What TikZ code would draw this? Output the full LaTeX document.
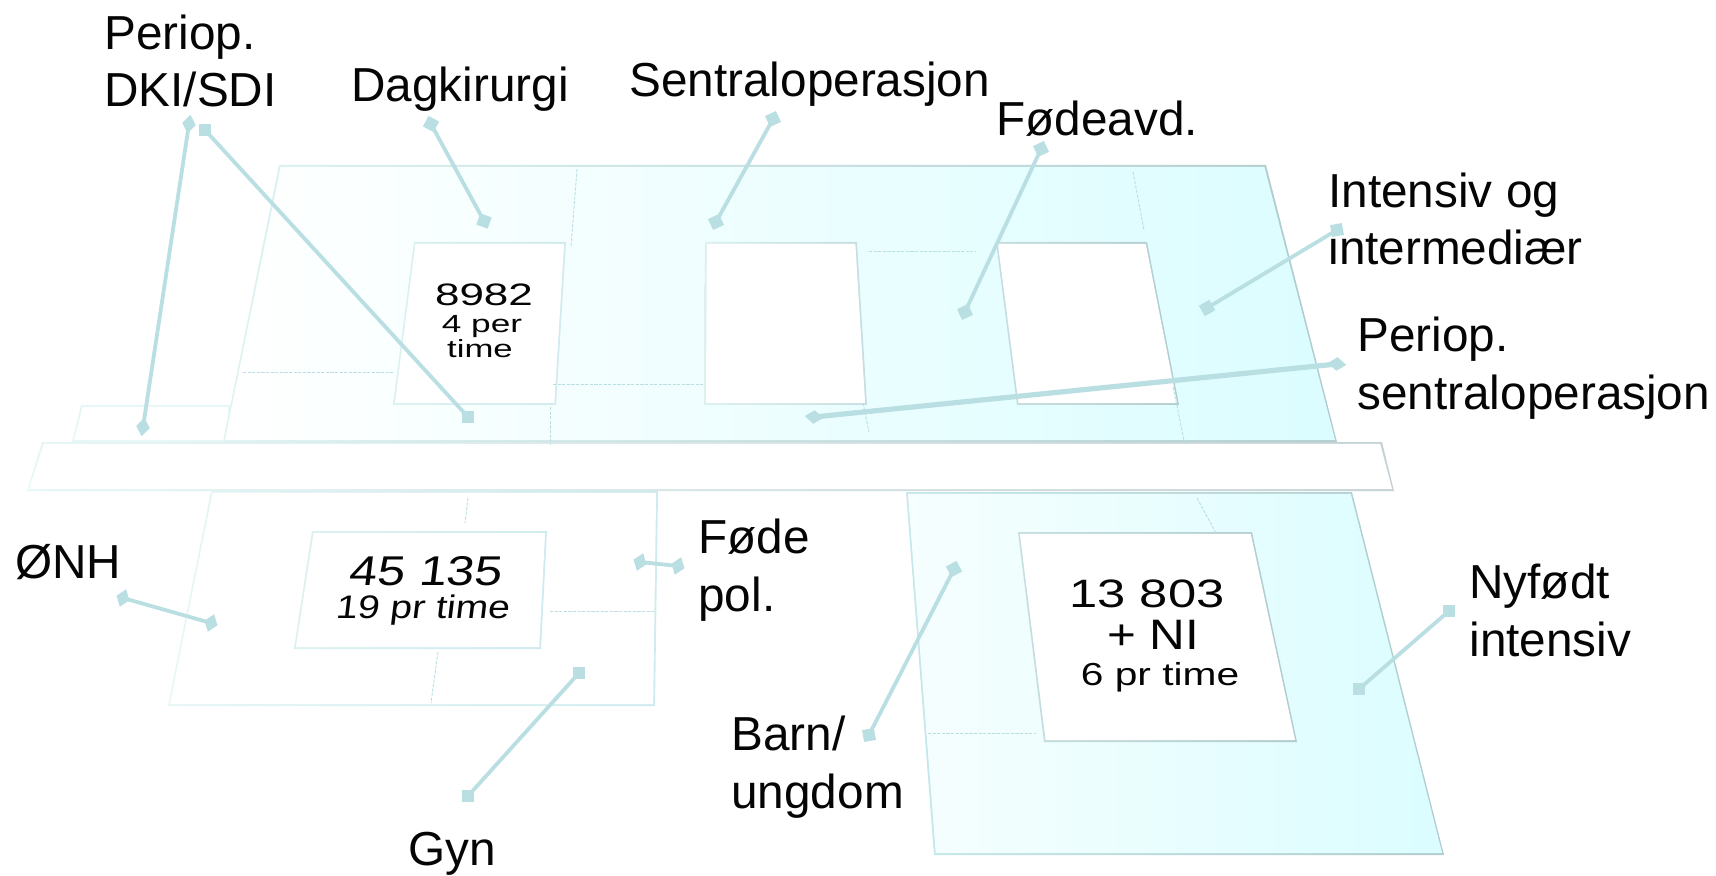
\documentclass[tikz,border=0pt]{standalone}
\usepackage{fontspec}
\setmainfont{Liberation Sans}
\usetikzlibrary{shapes.geometric}
\definecolor{mk}{HTML}{B9DFE3}
\definecolor{ink}{HTML}{050505}
\definecolor{EdgeA}{HTML}{E6F6F6}
\definecolor{EdgeB}{HTML}{DDF2F2}
\definecolor{EdgeC}{HTML}{B2CCCD}
\definecolor{EdgeD}{HTML}{D0EBEE}
\definecolor{EdgeE}{HTML}{C5E8EA}
\definecolor{EdgeF}{HTML}{C5D2D5}
\definecolor{EdgeG}{HTML}{DCF0F0}
\definecolor{EdgeH}{HTML}{C6DEDF}
\definecolor{FillL}{HTML}{F6FEFE}
\definecolor{FillM}{HTML}{F1FEFF}
\definecolor{FillR}{HTML}{DBFDFF}
\newcommand{\panel}[7]{%
  \shade[#1] #7 -- cycle;
  \shade[#2,shift={(#3,#4)},xscale={1-3.8/#5},yscale={1-3.8/#6},shift={(-#3,-#4)}] #7 -- cycle;
}
\tikzset{
  lab/.style={anchor=base west,inner sep=0pt,align=left,text=ink,font=\fontsize{23.85}{28.65}\selectfont},
  sqm/.style={rectangle,fill=mk,inner sep=0pt,minimum size=6pt},
  dmk/.style={diamond,fill=mk,inner sep=0pt,minimum width=7pt,minimum height=9.5pt},
  conn/.style={draw=mk,line width=1.9pt},
  dashl/.style={draw=mk,line width=0.45pt,dash pattern=on 1.6pt off 0.7pt},
  fig/.style={inner sep=0pt,text=ink,transform shape,anchor=base},
  inwhite/.style={left color=white,right color=white},
}
\begin{document}
\begin{tikzpicture}[x=0.5pt,y=-0.5pt]
\useasboundingbox (0,0) rectangle (1716,876);
% panels
\panel{left color=EdgeA,right color=EdgeA}{inwhite}{155}{423}{160}{38}{(81,405) -- (230,405) -- (230,442) -- (72,442)}
\panel{left color=EdgeB,right color=EdgeC}{left color=white,middle color=FillM,right color=FillR}{780}{303}{1114}{277}{(279,165) -- (1266,165) -- (1337,442) -- (223,442)}
\panel{left color=EdgeA,right color=EdgeD}{inwhite}{413}{598}{490}{215}{(211,491) -- (658,491) -- (655,706) -- (168,706)}
\panel{left color=EdgeE,right color=EdgeC}{left color=FillL,right color=FillR}{1175}{673}{538}{363}{(906,492) -- (1352,492) -- (1444,855) -- (934,855)}
\panel{left color=EdgeA,right color=EdgeF}{inwhite}{710}{466}{1367}{49}{(42,442) -- (1382,442) -- (1394,491) -- (27,491)}
% rooms
\panel{left color=EdgeG,right color=EdgeD}{inwhite}{480}{323}{173}{163}{(414,242) -- (566,242) -- (556,405) -- (393,405)}
\panel{left color=EdgeG,right color=EdgeH}{inwhite}{786}{323}{163}{163}{(705,242) -- (857,242) -- (867,405) -- (704,405)}
\panel{left color=EdgeH,right color=EdgeC}{inwhite}{1087}{323}{183}{163}{(996,242) -- (1147,242) -- (1179,405) -- (1017,405)}
\panel{left color=EdgeG,right color=EdgeD}{inwhite}{420}{590}{253}{118}{(312,531) -- (547,531) -- (541,649) -- (294,649)}
\panel{left color=EdgeH,right color=EdgeC}{inwhite}{1157}{637}{279}{210}{(1018,532) -- (1252,532) -- (1297,742) -- (1044,742)}
% dashed partitions
\draw[dashl] (577,169) -- (571,247);
\draw[dashl] (243,372) -- (394,372);
\draw[dashl] (553,384) -- (703,384);
\draw[dashl] (550,407) -- (550,445);
\draw[dashl] (869,251) -- (975,251);
\draw[dashl] (1133,172) -- (1144,230);
\draw[dashl] (1173,387) -- (1185,445);
\draw[dashl] (863,403) -- (869,432);
\draw[dashl] (468,498) -- (465,523);
\draw[dashl] (438,652) -- (431,703);
\draw[dashl] (550,611) -- (655,611);
\draw[dashl] (1197,498) -- (1216,533);
\draw[dashl] (928,733) -- (1036,733);
% figures in rooms
\node[fig,xscale=1.42,font=\fontsize{15.5}{15}\selectfont] (t1) at (484,306) {8982};
\node[fig,xscale=1.42,font=\fontsize{12.4}{12}\selectfont] (t2) at (482,333) {4 per};
\node[fig,xscale=1.4,font=\fontsize{12.4}{12}\selectfont] (t3) at (480,358) {time};
\node[fig,xscale=1.2,xslant=0.1,font=\fontsize{20.8}{19}\selectfont] (t4) at (425,585) {45 135};
\node[fig,xscale=1.2,xslant=0.1,font=\fontsize{16.3}{15}\selectfont] (t5) at (422,618) {19 pr time};
\node[fig,xscale=1.28,font=\fontsize{19.8}{19}\selectfont] (t6) at (1147,607) {13 803};
\node[fig,xscale=1.16,font=\fontsize{21.3}{19}\selectfont] (t7) at (1153,649) {+ NI};
\node[fig,xscale=1.28,font=\fontsize{15.9}{15}\selectfont] (t8) at (1160,685) {6 pr time};
% labels
\node[lab] (l1) at (104,107) {Periop.\\DKI/SDI};
\node[lab] (l2) at (351,102) {Dagkirurgi};
\node[lab] (l3) at (629,97) {Sentraloperasjon};
\node[lab] (l4) at (996,136) {Fødeavd.};
\node[lab] (l5) at (1328,265) {Intensiv og\\intermediær};
\node[lab] (l6) at (1357,409) {Periop.\\sentraloperasjon};
\node[lab] (l7) at (15,578) {ØNH};
\node[lab] (l8) at (698,611) {Føde\\pol.};
\node[lab] (l9) at (408,865) {Gyn};
\node[lab] (l10) at (731,808) {Barn/\\ungdom};
\node[lab] (l11) at (1469,656) {Nyfødt\\intensiv};
% leaders
\node[dmk,rotate=-9] (a1) at (189,124) {};
\node[dmk,rotate=-9] (b1) at (143,427) {};
\node[sqm] (a2) at (205,130) {};
\node[sqm] (b2) at (468,417) {};
\node[sqm,rotate=-28] (a3) at (431,124) {};
\node[sqm,rotate=-20] (b3) at (484,221) {};
\node[sqm,rotate=25] (a4) at (773,119) {};
\node[sqm,rotate=25] (b4) at (716,222) {};
\node[sqm,rotate=25] (a5) at (1041,149) {};
\node[sqm,rotate=25] (b5) at (965,312) {};
\node[sqm,rotate=10] (a6) at (1337,230) {};
\node[sqm,rotate=30] (b6) at (1207,308) {};
\node[dmk,rotate=84] (a7) at (1337,364) {};
\node[dmk,rotate=84] (b7) at (814,417) {};
\node[dmk,rotate=-20] (a8) at (123,598) {};
\node[dmk,rotate=-20] (b8) at (211,623) {};
\node[dmk,rotate=-20] (a9) at (640,562) {};
\node[dmk,rotate=-20] (b9) at (678,566) {};
\node[sqm] (a10) at (579,673) {};
\node[sqm] (b10) at (468,796) {};
\node[sqm,rotate=28] (a11) at (954,569) {};
\node[sqm,rotate=10] (b11) at (869,735) {};
\node[sqm] (a12) at (1449,611) {};
\node[sqm] (b12) at (1359,689) {};
\foreach \n in {1,2,3,4,5,6,8,9,10,11,12}
  \draw[conn] (a\n.center) -- (b\n.center);
\draw[conn,line width=2.6pt] (a7.center) -- (b7.center);
\end{tikzpicture}
\end{document}
